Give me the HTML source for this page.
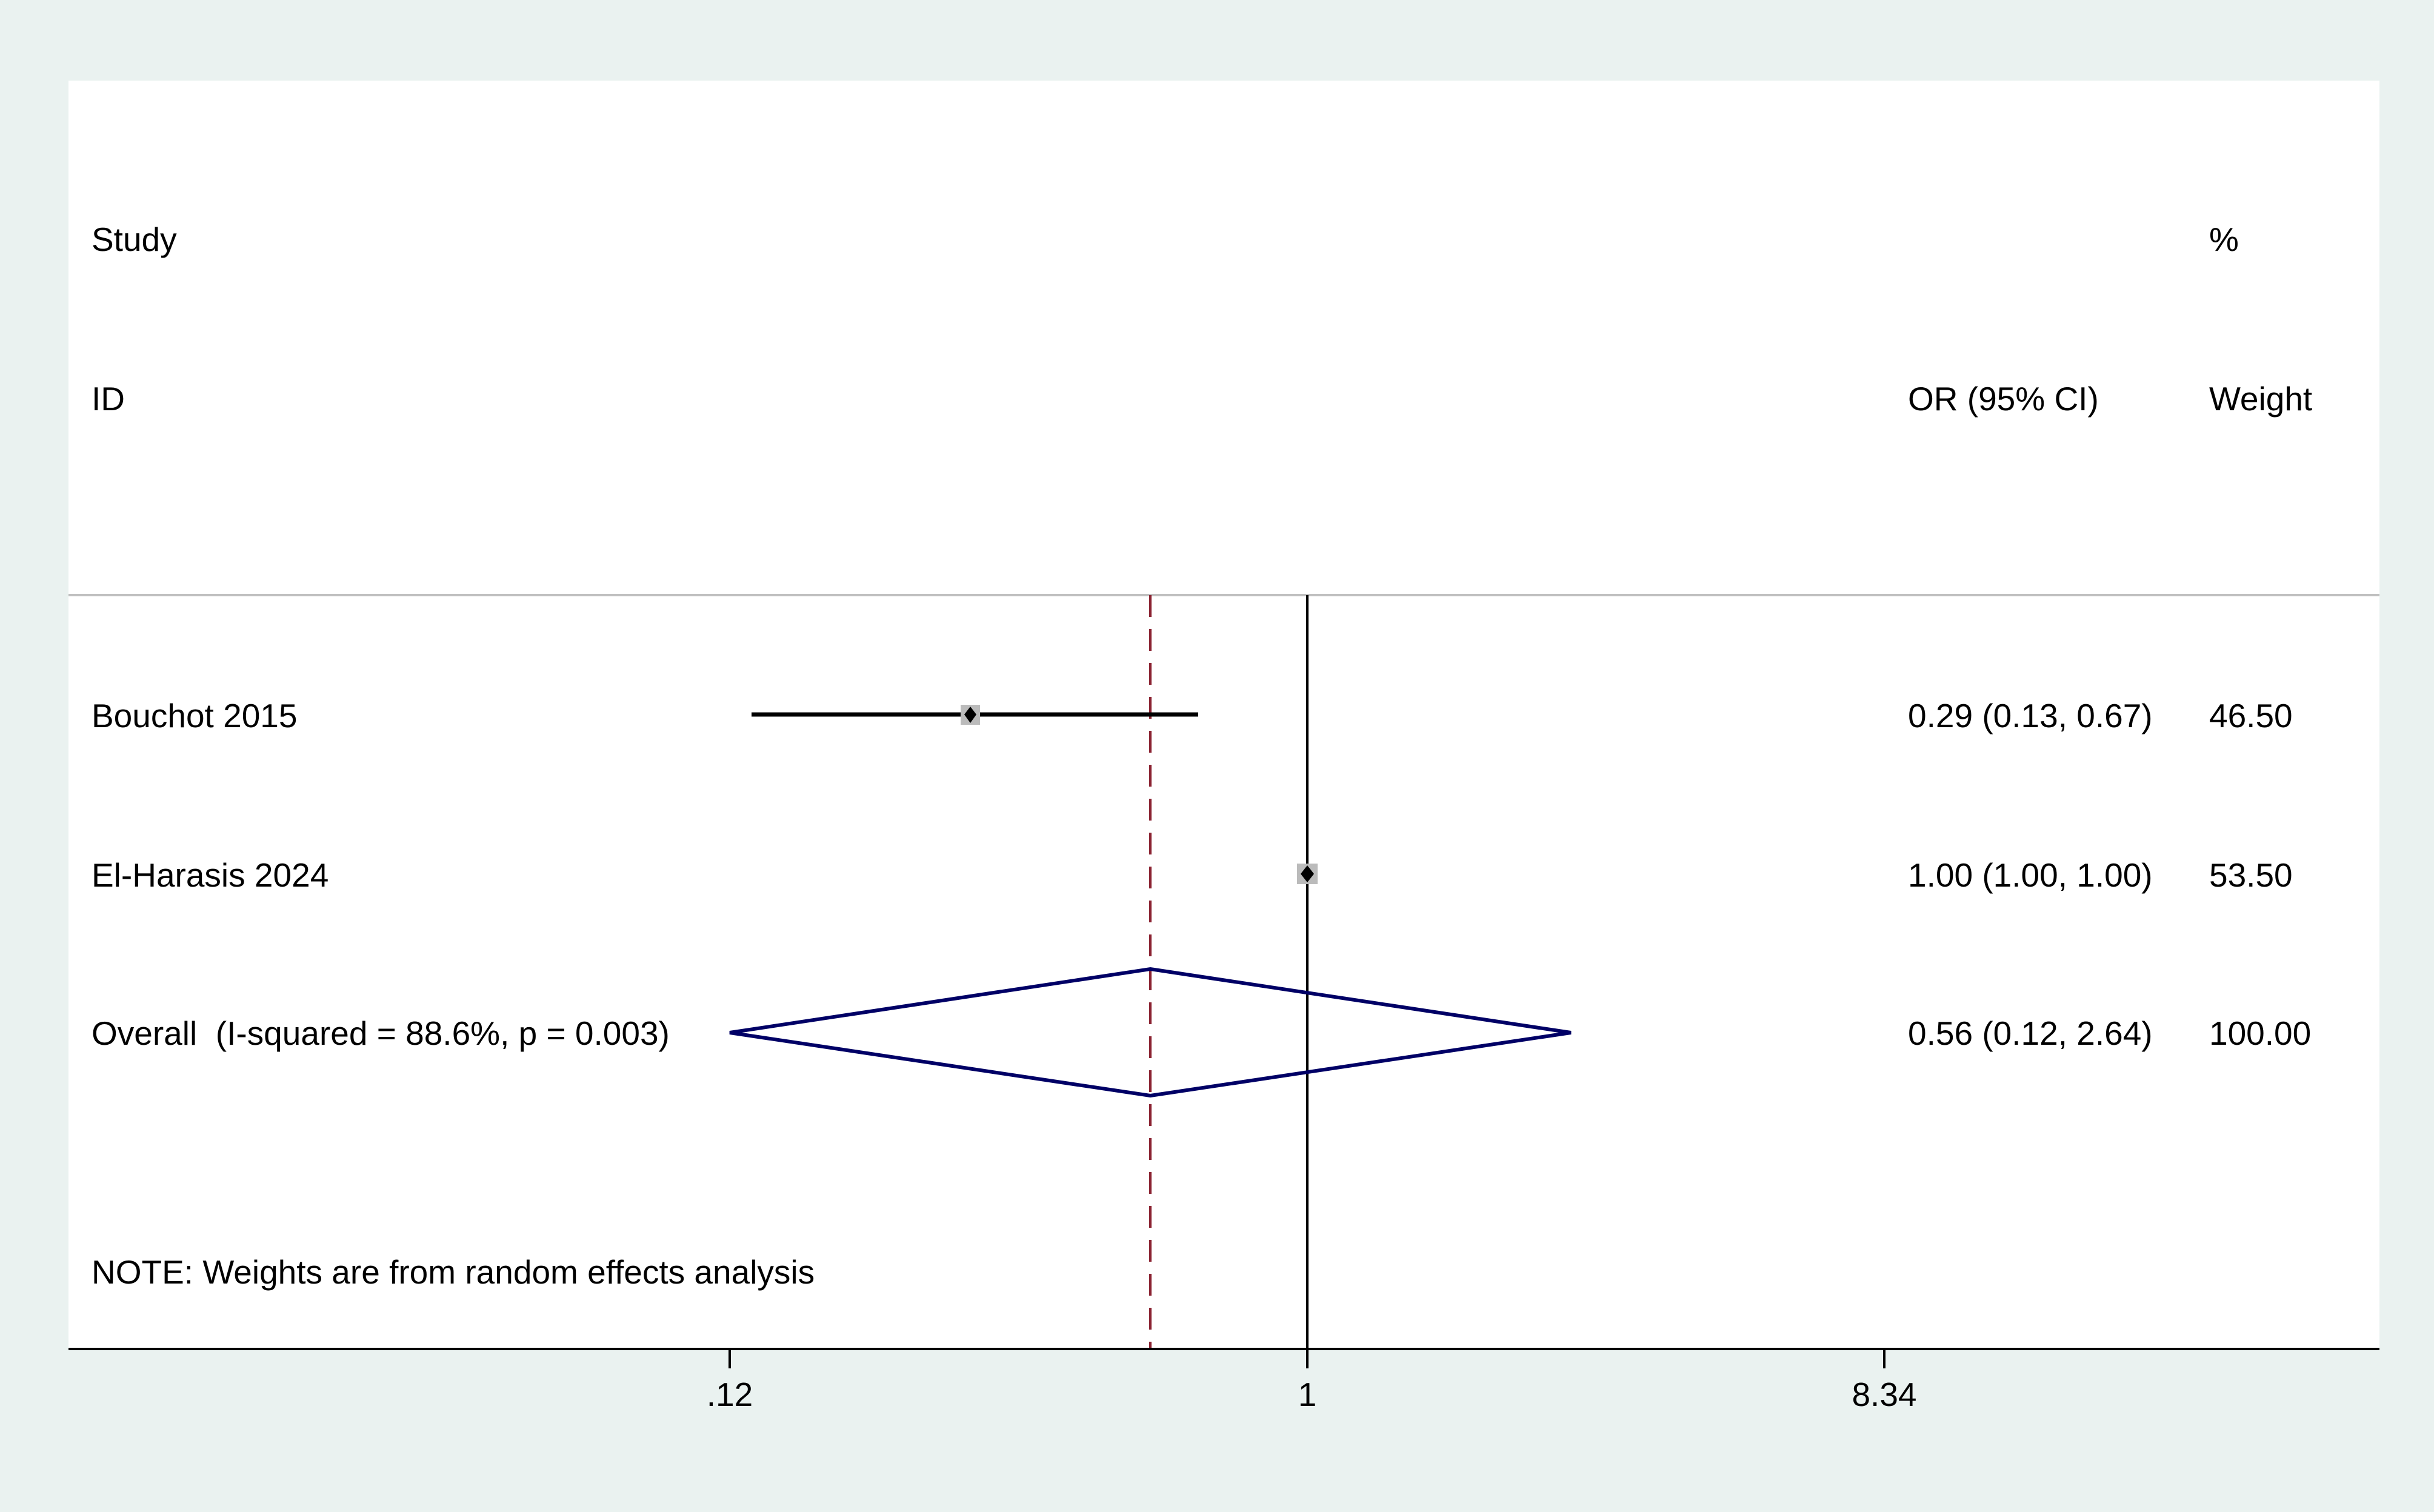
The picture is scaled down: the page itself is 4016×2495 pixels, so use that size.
<!DOCTYPE html>
<html><head><meta charset="utf-8"><style>
html,body{margin:0;padding:0;background:#eaf2f0;}
svg{display:block;}
text{font-family:"Liberation Sans",Arial,sans-serif;font-size:55px;fill:#000;}
</style></head><body>
<svg width="4016" height="2495" viewBox="0 0 4016 2495" xmlns="http://www.w3.org/2000/svg">
<rect x="0" y="0" width="4016" height="2495" fill="#eaf2f0"/>
<rect x="113" y="133" width="3813" height="2093" fill="#ffffff"/>
<line x1="113" y1="982" x2="3926" y2="982" stroke="#c0c0c0" stroke-width="4"/>
<line x1="2157" y1="982" x2="2157" y2="2226" stroke="#000" stroke-width="4"/>
<line x1="1898" y1="982" x2="1898" y2="2226" stroke="#8b2332" stroke-width="4" stroke-dasharray="36,20"/>
<line x1="1240" y1="1179" x2="1977" y2="1179" stroke="#000" stroke-width="7"/>
<rect x="1585" y="1163" width="32" height="33" fill="#bbbbbb"/>
<polygon points="1601,1166 1611,1179 1601,1193 1591,1179" fill="#000"/>
<rect x="2140" y="1425" width="34" height="34" fill="#bbbbbb"/>
<polygon points="2157,1428 2168,1442 2157,1456 2146,1442" fill="#000"/>
<polygon points="1204,1704 1898,1599 2592,1704 1898,1808" fill="none" stroke="#000066" stroke-width="6"/>
<line x1="113" y1="2226" x2="3926" y2="2226" stroke="#000" stroke-width="4"/>
<line x1="1204" y1="2226" x2="1204" y2="2258" stroke="#000" stroke-width="4"/>
<line x1="2157" y1="2226" x2="2157" y2="2258" stroke="#000" stroke-width="4"/>
<line x1="3109" y1="2226" x2="3109" y2="2258" stroke="#000" stroke-width="4"/>
<text x="1204" y="2320" text-anchor="middle">.12</text>
<text x="2157" y="2320" text-anchor="middle">1</text>
<text x="3109" y="2320" text-anchor="middle">8.34</text>
<text x="151" y="414">Study</text>
<text x="151" y="677">ID</text>
<text x="3148" y="677">OR (95% CI)</text>
<text x="3645" y="414">%</text>
<text x="3645" y="677">Weight</text>
<text x="151" y="1200">Bouchot 2015</text>
<text x="3148" y="1200">0.29 (0.13, 0.67)</text>
<text x="3645" y="1200">46.50</text>
<text x="151" y="1463">El-Harasis 2024</text>
<text x="3148" y="1463">1.00 (1.00, 1.00)</text>
<text x="3645" y="1463">53.50</text>
<text x="151" y="1724" xml:space="preserve">Overall  (I-squared = 88.6%, p = 0.003)</text>
<text x="3148" y="1724">0.56 (0.12, 2.64)</text>
<text x="3645" y="1724">100.00</text>
<text x="151" y="2118">NOTE: Weights are from random effects analysis</text>
</svg>
</body></html>
